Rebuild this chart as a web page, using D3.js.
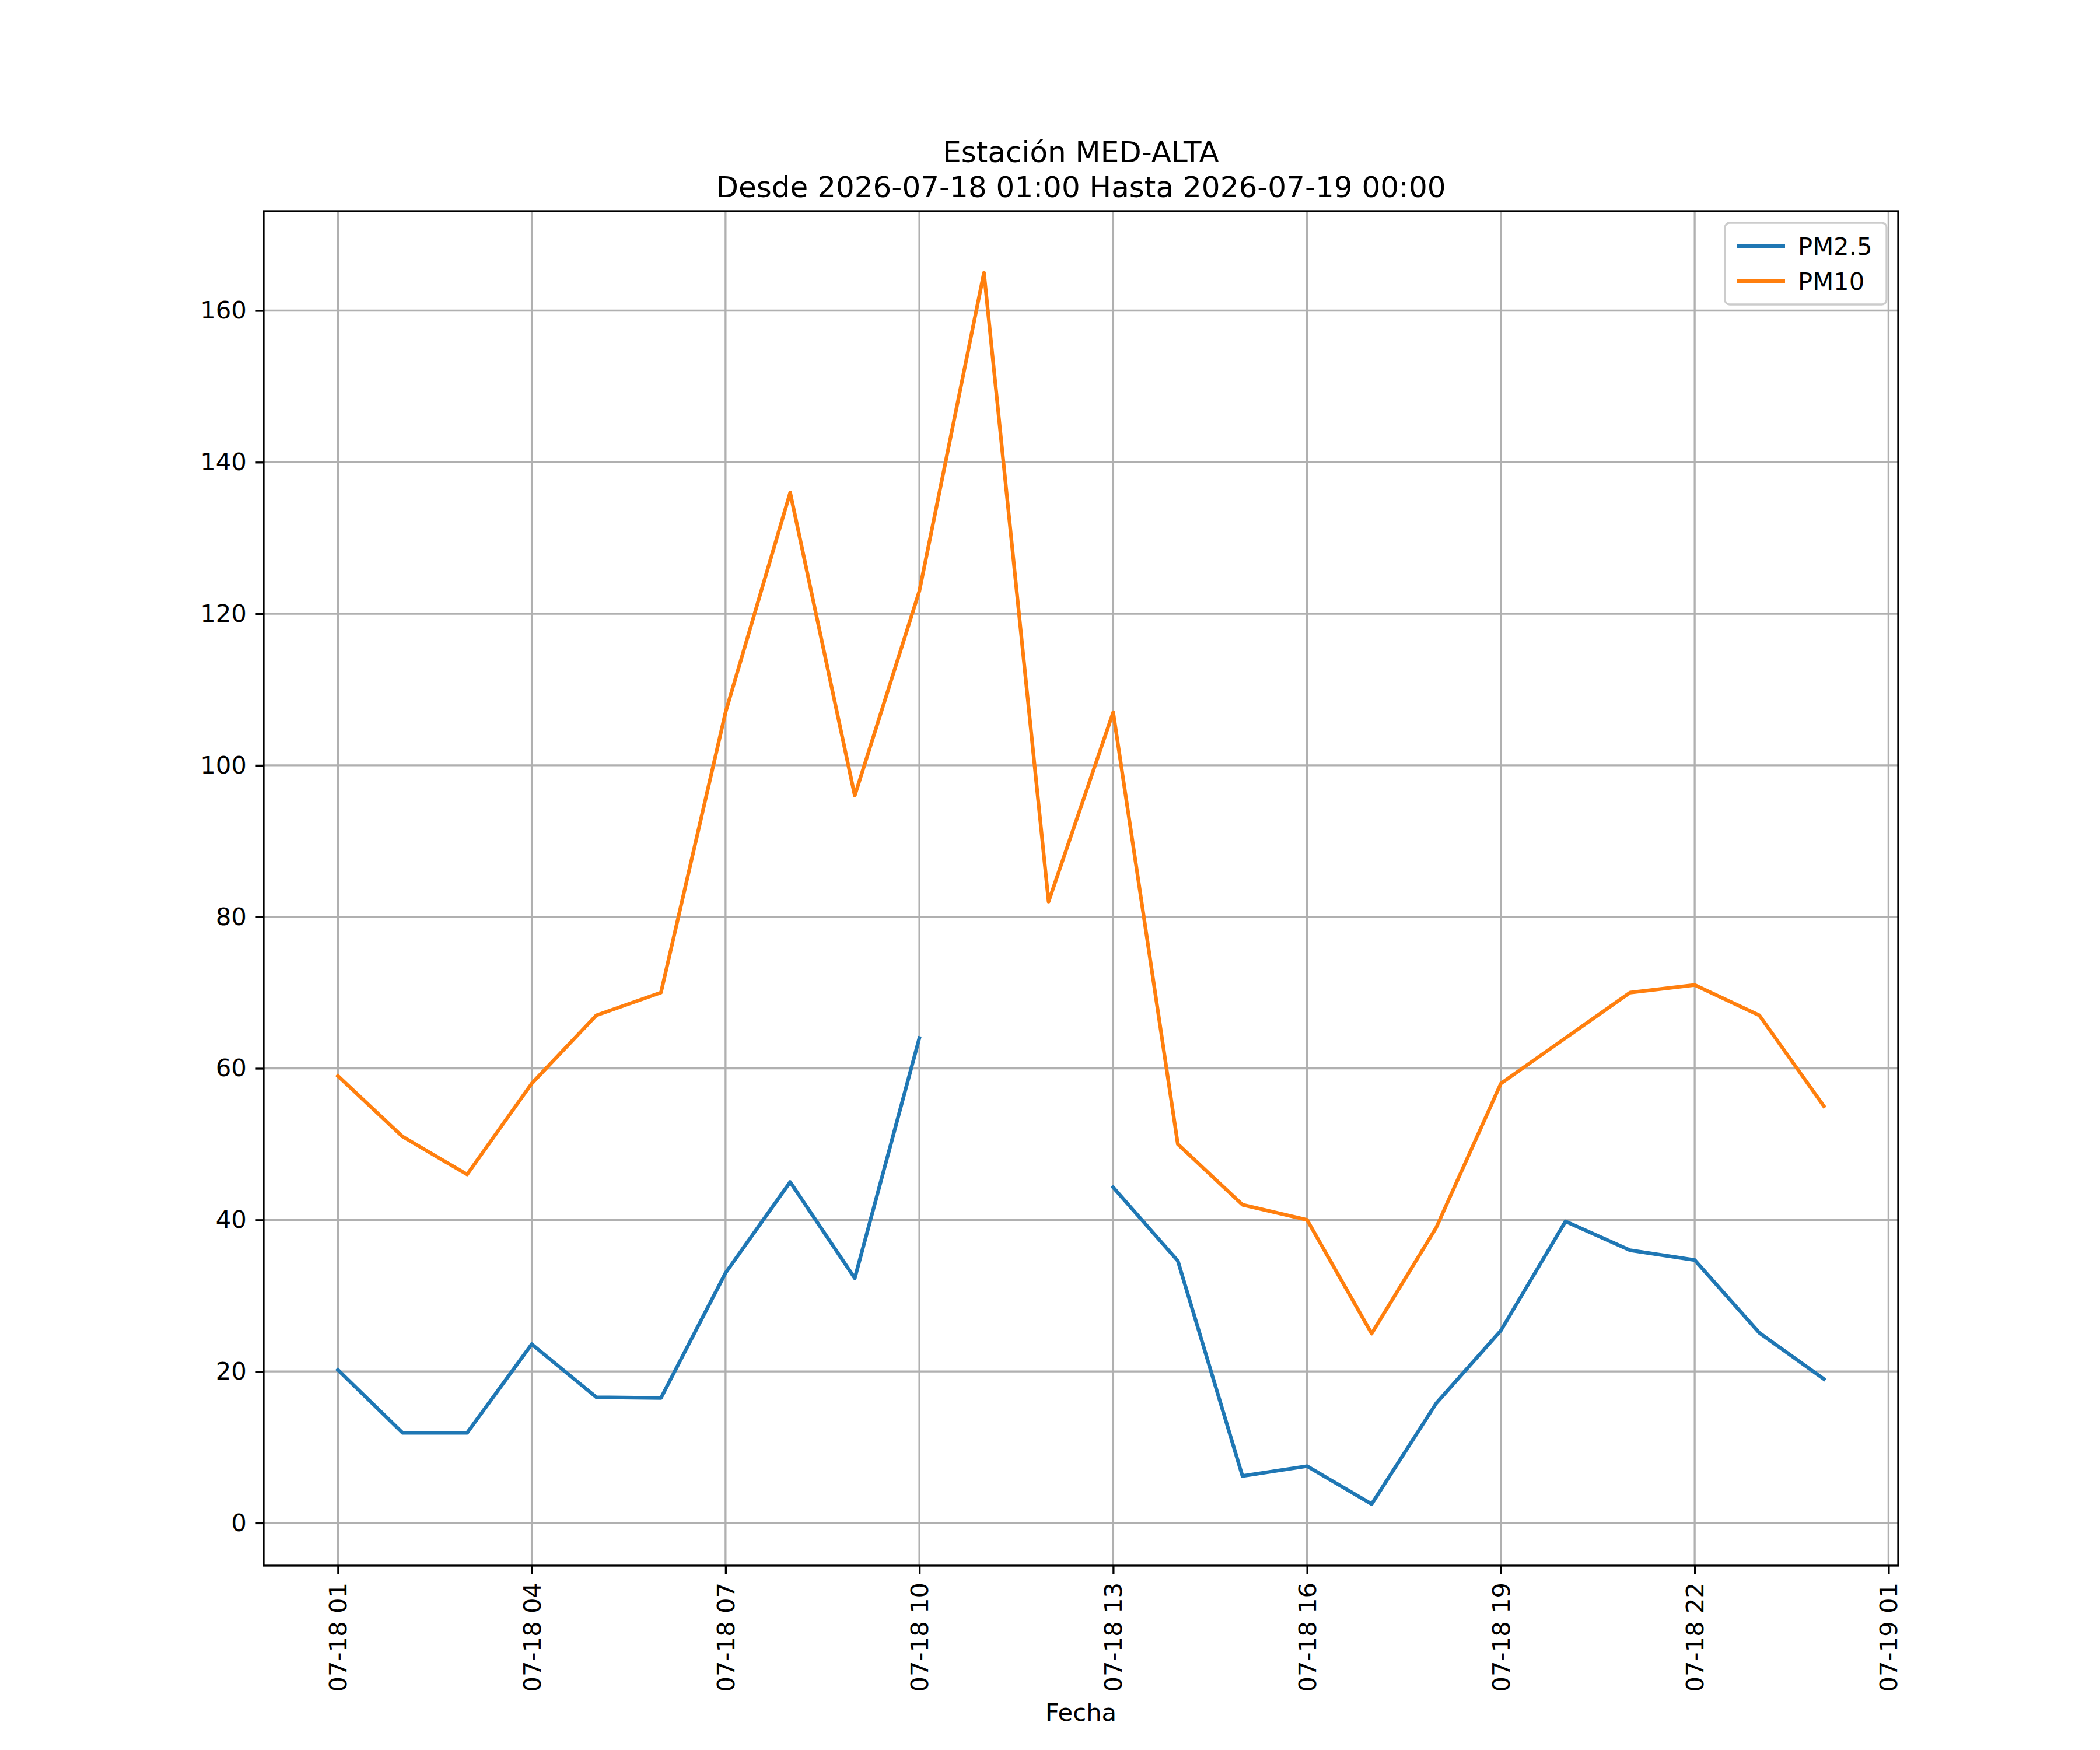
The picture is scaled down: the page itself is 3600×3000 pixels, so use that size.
<!DOCTYPE html>
<html><head><meta charset="utf-8">
<script src="https://cdn.jsdelivr.net/npm/d3@7"></script>
<style>body{margin:0;background:#fff}text{font-family:"DejaVu Sans",sans-serif}</style>
</head><body><svg id="c"></svg>
<script>
// hours after 2026-07-18 00:00 (1..24)
const hours = d3.range(1, 25);
const pm25 = [20.2, 11.9, 11.9, 23.6, 16.6, 16.5, 33, 45, 32.3, 64, null, null,
  44.3, 34.6, 6.2, 7.5, 2.5, 15.8, 25.4, 39.8, 36, 34.7, 25.1, 19];
const pm10 = [59, 51, 46, 58, 67, 70, 107, 136, 96, 123, 165, 82,
  107, 50, 42, 40, 25, 39, 58, 64, 70, 71, 67, 55];
const xTicks = [1, 4, 7, 10, 13, 16, 19, 22, 25];
const xTickLabels = ["07-18 01", "07-18 04", "07-18 07", "07-18 10", "07-18 13",
  "07-18 16", "07-18 19", "07-18 22", "07-19 01"];
const yTicks = [0, 20, 40, 60, 80, 100, 120, 140, 160];
const series = [{name: "PM2.5", values: pm25, color: "#1f77b4"},
  {name: "PM10", values: pm10, color: "#ff7f0e"}];

const W = 3600, H = 3000;
const L = 452, R = 3254, T = 362, B = 2684;
const svg = d3.select("#c").attr("width", W).attr("height", H);

const x = d3.scaleLinear().domain([1 - 23 * 0.05, 24 + 23 * 0.05]).range([L, R]);
const y = d3.scaleLinear().domain([2.5 - 162.5 * 0.05, 165 + 162.5 * 0.05]).range([B, T]);

// grid
svg.append("g").selectAll("line").data(xTicks).join("line")
  .attr("x1", d => x(d)).attr("x2", d => x(d)).attr("y1", T).attr("y2", B)
  .attr("stroke", "#b0b0b0").attr("stroke-width", 3.3);
svg.append("g").selectAll("line").data(yTicks).join("line")
  .attr("y1", d => y(d)).attr("y2", d => y(d)).attr("x1", L).attr("x2", R)
  .attr("stroke", "#b0b0b0").attr("stroke-width", 3.3);

const line = d3.line().defined(d => d[1] != null).x(d => x(d[0])).y(d => y(d[1]));
series.forEach(s => {
  svg.append("path").datum(hours.map((h, i) => [h, s.values[i]]))
    .attr("d", line).attr("fill", "none").attr("stroke", s.color)
    .attr("stroke-width", 6.25).attr("stroke-linecap", "square").attr("stroke-linejoin", "round");
});

// axes
const xa = svg.append("g").attr("transform", `translate(0,${B})`)
  .call(d3.axisBottom(x).tickValues(xTicks).tickFormat((d, i) => xTickLabels[i]).tickSize(14.6).tickPadding(14.6));
xa.selectAll("text").attr("font-size", 41.7).attr("fill", "#000")
  .attr("transform", "rotate(-90)").attr("text-anchor", "end")
  .attr("x", -29).attr("y", 0).attr("dy", "0.35em");
const ya = svg.append("g").attr("transform", `translate(${L},0)`)
  .call(d3.axisLeft(y).tickValues(yTicks).tickSize(14.6).tickPadding(14.6));
ya.selectAll("text").attr("font-size", 41.7).attr("fill", "#000");
[xa, ya].forEach(a => { a.select(".domain").remove(); a.selectAll("line").attr("stroke-width", 3.3); });
svg.append("rect").attr("x", L).attr("y", T).attr("width", R - L).attr("height", B - T)
  .attr("fill", "none").attr("stroke", "#000").attr("stroke-width", 3.3);

svg.append("text").attr("x", (L + R) / 2).attr("y", 2950).attr("text-anchor", "middle")
  .attr("font-size", 41.7).text("Fecha");
svg.append("text").attr("x", (L + R) / 2).attr("y", 278).attr("text-anchor", "middle")
  .attr("font-size", 50).text("Estación MED-ALTA");
svg.append("text").attr("x", (L + R) / 2).attr("y", 338).attr("text-anchor", "middle")
  .attr("font-size", 50).text("Desde 2026-07-18 01:00 Hasta 2026-07-19 00:00");

// legend
const lg = svg.append("g").attr("transform", `translate(${R - 297},${T + 20})`);
lg.append("rect").attr("width", 277).attr("height", 140).attr("rx", 8)
  .attr("fill", "#fff").attr("fill-opacity", 0.8).attr("stroke", "#ccc").attr("stroke-width", 3.3);
series.forEach((s, i) => {
  const yy = 40 + i * 60;
  lg.append("line").attr("x1", 20).attr("x2", 103).attr("y1", yy).attr("y2", yy)
    .attr("stroke", s.color).attr("stroke-width", 6.25);
  lg.append("text").attr("x", 125).attr("y", yy).attr("dy", "0.35em")
    .attr("font-size", 41.7).text(s.name);
});
</script></body></html>
